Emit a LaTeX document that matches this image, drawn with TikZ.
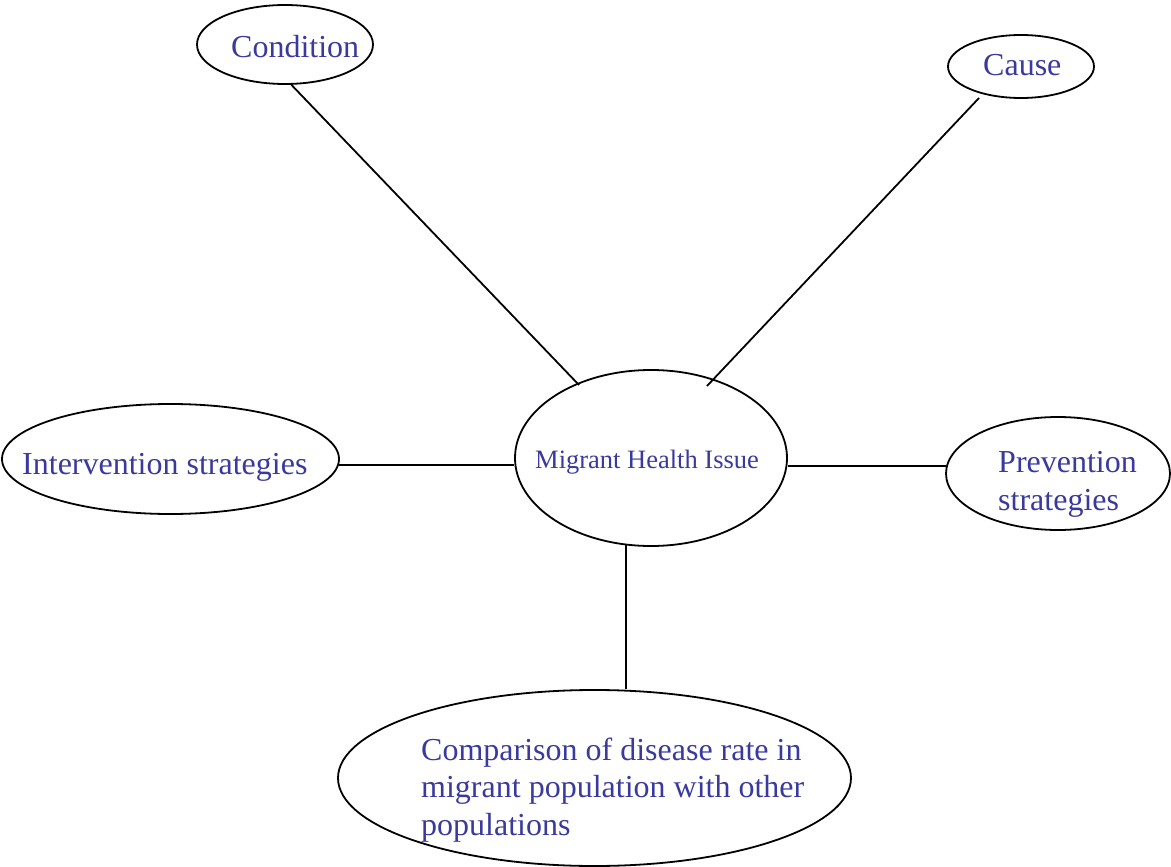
\documentclass[tikz,border=0pt]{standalone}
\usepackage{fontspec}
\setmainfont{Liberation Serif}
\usetikzlibrary{shapes.geometric}
\definecolor{txtblue}{RGB}{58,58,158}
\begin{document}
\begin{tikzpicture}[x=1pt,y=-1pt,
  bubble/.style={draw, ellipse, line width=1.8pt, inner sep=0pt},
  conn/.style={line width=1.8pt},
  lbl/.style={text=txtblue, inner sep=0pt, anchor=base west, font=\fontsize{32}{37.5}\selectfont, align=left},
  lblsmall/.style={text=txtblue, inner sep=0pt, anchor=base west, font=\fontsize{26.5}{31}\selectfont}]
\useasboundingbox (0,0) rectangle (1171,867);
% ellipses
\node[bubble, minimum width=176pt, minimum height=79pt] (cond) at (285,44.5) {};
\node[bubble, minimum width=146pt, minimum height=63pt] (cause) at (1021,66.5) {};
\node[bubble, minimum width=272pt, minimum height=176pt] (mhi) at (651,458) {};
\node[bubble, minimum width=337pt, minimum height=110pt] (inter) at (170.5,459) {};
\node[bubble, minimum width=224pt, minimum height=113pt] (prev) at (1058,473.5) {};
\node[bubble, minimum width=513pt, minimum height=176pt] (comp) at (594.5,778) {};
% texts
\node[lbl] (condt) at (231,58) {Condition};
\node[lbl] (causet) at (983,76) {Cause};
\node[lblsmall] (mhit) at (535,468) {Migrant Health Issue};
\node[lbl] (intert) at (22,474) {Intervention strategies};
\node[lbl] (prevt) at (998,510) {Prevention\\strategies};
\node[lbl] (compt) at (421,835) {Comparison of disease rate in\\migrant population with other\\populations};
% connectors
\draw[conn] (cond.-81.3) -- ([shift={(-72,-73)}]mhi.center);
\draw[conn] ([shift={(-42,31.5)}]cause.center) -- ([shift={(56,-72)}]mhi.center);
\draw[conn] (inter.-2.4) -- (inter.-2.4 -| mhi.west);
\draw[conn] (prev.176.1) -- (prev.176.1 -| mhi.east);
\draw[conn] (mhi.254.5) -- (mhi.254.5 |- comp.north);
\end{tikzpicture}
\end{document}
